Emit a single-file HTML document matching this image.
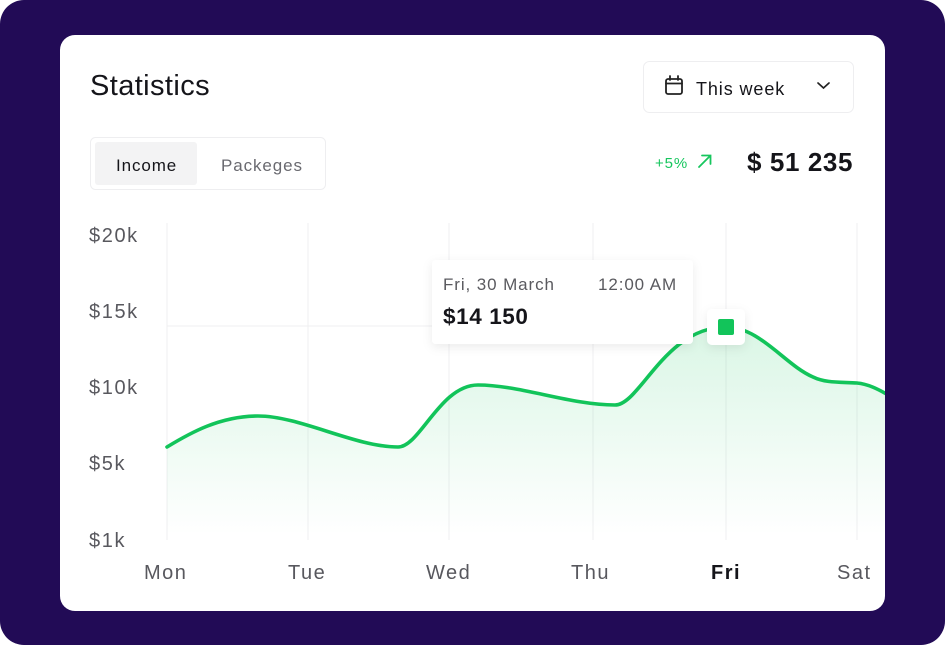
<!DOCTYPE html>
<html>
<head>
<meta charset="utf-8">
<style>
  html,body{margin:0;padding:0;background:#fff;}
  body{width:945px;height:645px;position:relative;overflow:hidden;font-family:"Liberation Sans","DejaVu Sans",sans-serif;}
  .bg{position:absolute;left:0;top:0;width:945px;height:645px;background:#220B56;border-radius:24px;}
  .card{position:absolute;left:60px;top:35px;width:825px;height:576px;background:#fff;border-radius:15px;overflow:hidden;}
  .abs{position:absolute;white-space:nowrap;}
</style>
</head>
<body>
<div class="bg"></div>
<div class="card"></div>
<svg class="abs" style="left:0;top:0" width="945" height="645" viewBox="0 0 945 645">
  <defs>
    <linearGradient id="fillg" x1="0" y1="0" x2="0" y2="1">
      <stop offset="0" stop-color="#17C65E" stop-opacity="0.16"/>
      <stop offset="1" stop-color="#17C65E" stop-opacity="0.0"/>
    </linearGradient>
    <filter id="sh" x="-20%" y="-30%" width="140%" height="170%">
      <feDropShadow dx="0" dy="3" stdDeviation="5" flood-color="#000" flood-opacity="0.08"/>
    </filter>
    <clipPath id="cardclip"><rect x="60" y="35" width="825" height="576" rx="15"/></clipPath>
  </defs>
  <g clip-path="url(#cardclip)">
    <g stroke="#EFEFF1" stroke-width="1">
      <line x1="167" y1="223" x2="167" y2="540"/>
      <line x1="308" y1="223" x2="308" y2="540"/>
      <line x1="449" y1="223" x2="449" y2="540"/>
      <line x1="593" y1="223" x2="593" y2="540"/>
      <line x1="726" y1="223" x2="726" y2="540"/>
      <line x1="857" y1="223" x2="857" y2="540"/>
      <line x1="167" y1="326" x2="432" y2="326"/>
    </g>
    <path d="M167,447 C190,433 220,416 258,416 C300,416 355,447 398,447 C420,447 440,385 478,385 C520,385 570,405 615,405 C640,405 665,327 726,327 C760,327 785,365 813,377 C825,383 840,382 857,383 C868,384 878,389 890,396 L890,535 L167,535 Z" fill="url(#fillg)"/>
    <path d="M167,447 C190,433 220,416 258,416 C300,416 355,447 398,447 C420,447 440,385 478,385 C520,385 570,405 615,405 C640,405 665,327 726,327 C760,327 785,365 813,377 C825,383 840,382 857,383 C868,384 878,389 890,396" fill="none" stroke="#12C45A" stroke-width="3.6" stroke-linecap="round"/>
  </g>
  <!-- marker -->
  <rect x="707" y="309" width="38" height="36" rx="5" fill="#fff" filter="url(#sh)"/>
  <rect x="718" y="319" width="16" height="16" rx="2" fill="#12C45A"/>
  <!-- tooltip -->
  <rect x="432" y="260" width="261" height="84" rx="4" fill="#fff" filter="url(#sh)"/>
  <text x="443" y="290" font-family="Liberation Sans, sans-serif" font-size="17" letter-spacing="0.9" fill="#5A5A5F">Fri, 30 March</text>
  <text x="598" y="290" font-family="Liberation Sans, sans-serif" font-size="17" letter-spacing="0.9" fill="#5A5A5F">12:00 AM</text>
  <text x="443" y="324" font-family="Liberation Sans, sans-serif" font-size="22.5" font-weight="600" letter-spacing="0.6" fill="#15151A">$14 150</text>
  <!-- y labels -->
  <g font-family="Liberation Sans, sans-serif" font-size="20" letter-spacing="1.6" fill="#58585E">
    <text x="89" y="242">$20k</text>
    <text x="89" y="318">$15k</text>
    <text x="89" y="394">$10k</text>
    <text x="89" y="470">$5k</text>
    <text x="89" y="547">$1k</text>
  </g>
  <!-- x labels -->
  <g font-family="Liberation Sans, sans-serif" font-size="20" letter-spacing="1.5" fill="#58585E">
    <text x="144" y="579">Mon</text>
    <text x="288" y="579">Tue</text>
    <text x="426" y="579">Wed</text>
    <text x="571" y="579">Thu</text>
    <text x="711" y="579" font-weight="bold" fill="#15151A">Fri</text>
    <text x="837" y="579">Sat</text>
  </g>
  <!-- header -->
  <text x="90" y="95" font-family="Liberation Sans, sans-serif" font-size="29" letter-spacing="0.4" fill="#15151A">Statistics</text>
  <!-- dropdown -->
  <rect x="643.5" y="61.5" width="210" height="51" rx="6" fill="#fff" stroke="#EEEEF0"/>
  <g fill="none" stroke="#222" stroke-width="1.8" stroke-linecap="round">
    <rect x="666" y="79" width="16" height="15" rx="2"/>
    <line x1="666" y1="83.5" x2="682" y2="83.5"/>
    <line x1="670" y1="76" x2="670" y2="80"/>
    <line x1="678" y1="76" x2="678" y2="80"/>
    <polyline points="818,83 823.5,88 829,83" stroke-width="1.7"/>
  </g>
  <text x="696" y="95" font-family="Liberation Sans, sans-serif" font-size="18" letter-spacing="0.9" fill="#15151A">This week</text>
  <!-- tabs -->
  <rect x="90.5" y="137.5" width="235" height="52" rx="5" fill="#fff" stroke="#EEEEF0"/>
  <rect x="95" y="142" width="102" height="43" rx="3" fill="#F3F3F4"/>
  <text x="116" y="171" font-family="Liberation Sans, sans-serif" font-size="17" letter-spacing="0.9" fill="#15151A">Income</text>
  <text x="221" y="171" font-family="Liberation Sans, sans-serif" font-size="17" letter-spacing="0.9" fill="#6A6A70">Packeges</text>
  <!-- change -->
  <text x="655" y="168" font-family="Liberation Sans, sans-serif" font-size="15" letter-spacing="0.9" fill="#17C65E">+5%</text>
  <g stroke="#17C65E" stroke-width="1.8" fill="none" stroke-linecap="round">
    <line x1="699" y1="167" x2="710" y2="156"/>
    <polyline points="702,155.5 710.5,155.5 710.5,164"/>
  </g>
  <text x="747" y="171" font-family="Liberation Sans, sans-serif" font-size="26" font-weight="bold" letter-spacing="0.6" fill="#15151A">$ 51 235</text>
</svg>
</body>
</html>
